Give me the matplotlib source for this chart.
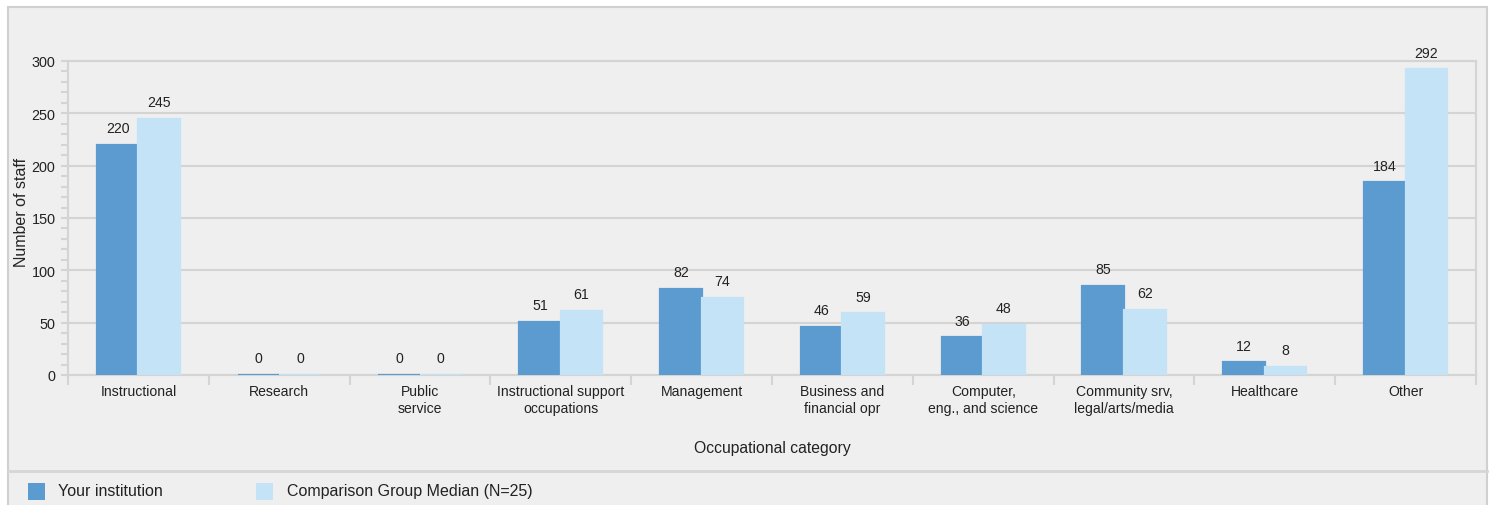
import numpy as np
import matplotlib
matplotlib.use("Agg")
import matplotlib.pyplot as plt
from matplotlib.patches import Rectangle
from matplotlib.lines import Line2D
from matplotlib.ticker import MultipleLocator

plt.rcParams['font.family'] = ['Liberation Sans', 'DejaVu Sans']

categories = ["Instructional", "Research", "Public\nservice", "Instructional support\noccupations",
              "Management", "Business and\nfinancial opr", "Computer,\neng., and science",
              "Community srv,\nlegal/arts/media", "Healthcare", "Other"]
your_inst = [220, 0, 0, 51, 82, 46, 36, 85, 12, 184]
comp_median = [245, 0, 0, 61, 74, 59, 48, 62, 8, 292]
series_names = ["Your institution", "Comparison Group Median (N=25)"]

dark = "#5b9bd0"
light = "#c5e3f6"
bg = "#efefef"
grid_c = "#d4d4d4"
txt = "#222222"

W, H = 1491, 506
fig = plt.figure(figsize=(W / 100, H / 100), dpi=100)
fig.patch.set_facecolor("white")

# outer panel (bottom edge runs off the image like in the original)
fig.patches.append(Rectangle((8 / W, -10 / H), (1487 - 8) / W, (H - 8 + 10) / H, transform=fig.transFigure,
                             facecolor=bg, edgecolor="#d0d0d0", linewidth=1.5, zorder=-5))
fig.lines.append(Line2D([8 / W, 1487 / W], [(H - 472) / H] * 2, transform=fig.transFigure,
                        color="#d6d6d6", linewidth=2, zorder=-4))

ax = fig.add_axes([68 / W, (H - 376) / H, (1476 - 68) / W, (376 - 62) / H])
ax.set_zorder(2)
ax.set_facecolor(bg)

x = np.arange(len(categories))
w = 0.295
b1 = ax.bar(x - w / 2, your_inst, w, color=dark, edgecolor=dark, linewidth=1.6, zorder=3)
b2 = ax.bar(x + w / 2, comp_median, w, color=light, edgecolor=light, linewidth=1.6, zorder=3)

for bars, vals in ((b1, your_inst), (b2, comp_median)):
    for bar, v in zip(bars, vals):
        ax.annotate(str(v), (bar.get_x() + bar.get_width() / 2, v), xytext=(0, 7),
                    textcoords="offset points", ha="center", va="bottom", fontsize=10.2, color=txt)

ax.set_xlim(-0.5, len(categories) - 0.5)
ax.set_ylim(0, 300)
ax.yaxis.set_major_locator(MultipleLocator(50))
ax.yaxis.set_minor_locator(MultipleLocator(10))
ax.grid(axis="y", color=grid_c, linewidth=1.5, zorder=0)
ax.set_axisbelow(True)

ax.set_xticks(x)
ax.set_xticklabels(categories, fontsize=10.1, color=txt, linespacing=1.25)
ax.set_xticks(np.arange(-0.5, len(categories)), minor=True)
ax.tick_params(axis="x", which="major", length=0, pad=6.5)
ax.tick_params(axis="x", which="minor", length=7, width=1.5, color=grid_c)
ax.tick_params(axis="y", which="both", length=5, width=1.5, color=grid_c, labelsize=10.4,
               labelcolor=txt, pad=4)

for s in ("left", "right", "bottom", "top"):
    ax.spines[s].set_color(grid_c)
    ax.spines[s].set_linewidth(1.5)

ax.set_ylabel("Number of staff", fontsize=11.5, color=txt)
ax.yaxis.set_label_coords(-0.028, 0.52)
ax.set_xlabel("Occupational category", fontsize=11.3, color=txt, labelpad=18)

# legend
ly = (H - 492) / H
for px, tx, col, name in ((28, 58, dark, series_names[0]), (256, 287, light, series_names[1])):
    fig.patches.append(Rectangle((px / W, ly - 8.5 / H), 17 / W, 17 / H, transform=fig.transFigure,
                                 facecolor=col, edgecolor="none"))
    fig.text(tx / W, ly, name, fontsize=11.5, color=txt, va="center", ha="left")

fig.savefig("out.png", dpi=100, facecolor=fig.get_facecolor())
